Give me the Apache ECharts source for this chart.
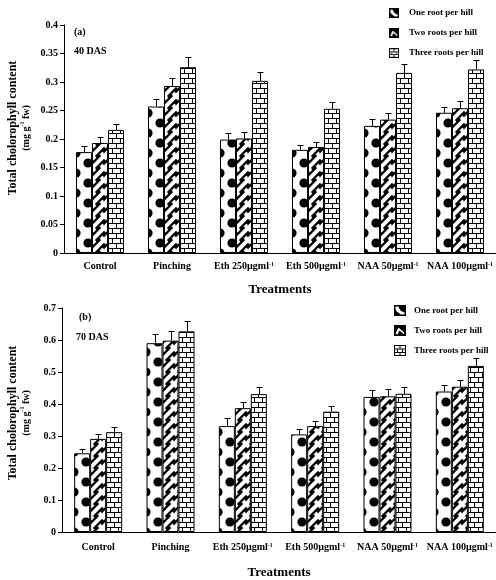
<!DOCTYPE html>
<html>
<head>
<meta charset="utf-8">
<script src="https://cdn.jsdelivr.net/npm/echarts@6.0.0/dist/echarts.min.js"></script>
<style>
  html, body { margin: 0; padding: 0; background: #fff; }
  #chart { width: 496px; height: 580px; }
</style>
</head>
<body>
<div id="chart"></div>
<script>
// categories ({s|..} = superscript)
const treatments = ['Control', 'Pinching', 'Eth 250\u00b5gml{s|-1}', 'Eth 500\u00b5gml{s|-1}', 'NAA 50\u00b5gml{s|-1}', 'NAA 100\u00b5gml{s|-1}'];
const seriesNames = ['One root per hill', 'Two roots per hill', 'Three roots per hill'];

// (a) 40 DAS
const oneA = [0.177, 0.257, 0.199, 0.181, 0.223, 0.246];
const twoA = [0.193, 0.293, 0.201, 0.186, 0.234, 0.254];
const threeA = [0.216, 0.326, 0.302, 0.253, 0.316, 0.322];
const errOneA = [0.010, 0.014, 0.011, 0.009, 0.012, 0.011];
const errTwoA = [0.010, 0.014, 0.011, 0.009, 0.011, 0.012];
const errThreeA = [0.011, 0.017, 0.016, 0.012, 0.016, 0.016];

// (b) 70 DAS
const oneB = [0.246, 0.590, 0.331, 0.305, 0.422, 0.439];
const twoB = [0.291, 0.598, 0.387, 0.331, 0.424, 0.454];
const threeB = [0.312, 0.627, 0.431, 0.376, 0.432, 0.519];
const errOneB = [0.013, 0.030, 0.025, 0.017, 0.022, 0.021];
const errTwoB = [0.015, 0.031, 0.020, 0.017, 0.022, 0.022];
const errThreeB = [0.017, 0.032, 0.022, 0.019, 0.021, 0.025];

const FONT = '"Liberation Serif", "Times New Roman", serif';

function makeCanvas(w, h, draw) {
  const c = document.createElement('canvas');
  c.width = w; c.height = h;
  draw(c.getContext('2d'), w, h);
  return c;
}

// fill patterns
const dotsImg = makeCanvas(24, 20, function (ctx, w, h) {
  ctx.fillStyle = '#fff'; ctx.fillRect(0, 0, w, h);
  ctx.fillStyle = '#000';
  [[12, 5], [0, 15], [24, 15]].forEach(function (p) {
    ctx.beginPath(); ctx.arc(p[0], p[1], 4.6, 0, Math.PI * 2); ctx.fill();
  });
});
const weaveImg = makeCanvas(12, 12, function (ctx, w, h) {
  ctx.fillStyle = '#000'; ctx.fillRect(0, 0, w, h);
  ctx.strokeStyle = '#fff'; ctx.lineWidth = 4; ctx.lineCap = 'butt';
  ctx.beginPath(); ctx.moveTo(-1, 13); ctx.lineTo(13, -1); ctx.stroke();
  ctx.beginPath(); ctx.moveTo(-1, -1); ctx.lineTo(3, 3); ctx.stroke();
  ctx.beginPath(); ctx.moveTo(9, 9); ctx.lineTo(13, 13); ctx.stroke();
});
const brickImg = makeCanvas(8, 10, function (ctx, w, h) {
  ctx.fillStyle = '#fff'; ctx.fillRect(0, 0, w, h);
  ctx.strokeStyle = '#000'; ctx.lineWidth = 1;
  ctx.beginPath();
  ctx.moveTo(0, 0.5); ctx.lineTo(8, 0.5);
  ctx.moveTo(0, 5.5); ctx.lineTo(8, 5.5);
  ctx.moveTo(0.5, 0); ctx.lineTo(0.5, 5);
  ctx.moveTo(4.5, 5); ctx.lineTo(4.5, 10);
  ctx.stroke();
});

function pat(img, x, y) {
  return { image: img, repeat: 'repeat', x: x, y: y };
}

// legend icons
function iconUrl(k) {
  return makeCanvas(24, 22, function (ctx, w, h) {
    if (k === 2) {
      ctx.fillStyle = '#fff'; ctx.fillRect(0, 0, w, h);
      ctx.strokeStyle = '#000'; ctx.lineWidth = 2;
      ctx.strokeRect(1, 1, w - 2, h - 2);
      ctx.beginPath();
      ctx.moveTo(0, 8); ctx.lineTo(w, 8);
      ctx.moveTo(0, 15); ctx.lineTo(w, 15);
      ctx.moveTo(12, 0); ctx.lineTo(12, 8);
      ctx.moveTo(7, 8); ctx.lineTo(7, 15);
      ctx.moveTo(17, 8); ctx.lineTo(17, 15);
      ctx.moveTo(12, 15); ctx.lineTo(12, h);
      ctx.stroke();
      return;
    }
    ctx.fillStyle = '#000'; ctx.fillRect(0, 0, w, h);
    ctx.fillStyle = '#fff';
    ctx.beginPath();
    if (k === 0) {
      ctx.moveTo(3, 3); ctx.lineTo(9, 3);
      ctx.quadraticCurveTo(11, 12, 21, 15);
      ctx.lineTo(21, 19); ctx.lineTo(14, 19);
      ctx.quadraticCurveTo(5, 14, 3, 9);
      ctx.closePath();
    } else {
      ctx.moveTo(3, 17); ctx.lineTo(9, 5); ctx.lineTo(20, 15);
      ctx.lineTo(20, 19); ctx.lineTo(11, 11); ctx.lineTo(7, 19);
      ctx.closePath();
    }
    ctx.fill();
  }).toDataURL();
}
const icons = [iconUrl(0), iconUrl(1), iconUrl(2)];

const boldText = { color: '#000', fontFamily: FONT, fontWeight: 'bold' };
const supRich = { s: Object.assign({ fontSize: 6, verticalAlign: 'top', lineHeight: 8 }, boldText) };

function xAx(gi, labelMargin, nameGap) {
  return {
    type: 'category', gridIndex: gi, data: treatments,
    axisLine: { lineStyle: { color: '#000', width: 1 } },
    axisTick: { length: 4, lineStyle: { color: '#000' } },
    axisLabel: Object.assign({ interval: 0, margin: labelMargin, fontSize: 10, rich: supRich }, boldText),
    name: 'Treatments', nameLocation: 'middle', nameGap: nameGap,
    nameTextStyle: Object.assign({ fontSize: 13 }, boldText)
  };
}
function yAx(gi, max, step) {
  return {
    type: 'value', gridIndex: gi, min: 0, max: max, interval: step,
    axisLine: { show: true, lineStyle: { color: '#000', width: 1 } },
    axisTick: { show: true, length: 4, lineStyle: { color: '#000' } },
    splitLine: { show: false },
    axisLabel: Object.assign({ margin: 6, fontSize: 10 }, boldText)
  };
}

function bar(gi, k, vals, color) {
  return {
    type: 'bar', name: seriesNames[k], xAxisIndex: gi, yAxisIndex: gi,
    data: vals, barWidth: 16, barGap: '0%', silent: true,
    itemStyle: { color: color, borderColor: '#000', borderWidth: 1 },
    emphasis: { disabled: true }
  };
}

function errors(gi, lists, errs) {
  const data = [];
  for (let k = 0; k < lists.length; k++) {
    for (let i = 0; i < lists[k].length; i++) data.push([i, lists[k][i], errs[k][i], k]);
  }
  return {
    type: 'custom', xAxisIndex: gi, yAxisIndex: gi, data: data, z: 5, silent: true,
    encode: { x: 0, y: 1 },
    renderItem: function (params, api) {
      const cat = api.value(0), v = api.value(1), e = api.value(2), k = api.value(3);
      const base = api.coord([cat, v]);
      const top = api.coord([cat, v + e]);
      const x = Math.round(base[0] + (k - 1) * 16) + 0.5;
      const yt = Math.round(top[1]) + 0.5;
      return {
        type: 'group',
        children: [
          { type: 'line', shape: { x1: x, y1: base[1], x2: x, y2: yt }, style: { stroke: '#000', lineWidth: 1 } },
          { type: 'line', shape: { x1: x - 3, y1: yt, x2: x + 3, y2: yt }, style: { stroke: '#000', lineWidth: 1 } }
        ]
      };
    }
  };
}

function legend(left, top, w, h, gap, pad) {
  return {
    left: left, top: top, orient: 'vertical', selectedMode: false,
    itemWidth: w, itemHeight: h, itemGap: gap,
    data: seriesNames.map(function (n, k) { return { name: n, icon: 'image://' + icons[k] }; }),
    textStyle: Object.assign({ fontSize: 9, padding: [0, 0, 0, pad] }, boldText)
  };
}

function label(text, x, y, size) {
  return {
    type: 'text', x: x, y: y, silent: true,
    style: { text: text, font: 'bold ' + size + 'px ' + FONT, fill: '#000', align: 'left', verticalAlign: 'middle' }
  };
}
function yTitle(cy) {
  return {
    type: 'text', x: 19, y: cy, rotation: Math.PI / 2, silent: true,
    style: {
      text: '{a|Total cholorophyll content}\n{b|(mg g}{s|-1}{b| fw)}',
      align: 'center', verticalAlign: 'middle', fill: '#000',
      rich: {
        a: Object.assign({ fontSize: 12, lineHeight: 14 }, boldText),
        b: Object.assign({ fontSize: 10, lineHeight: 13 }, boldText),
        s: Object.assign({ fontSize: 6, verticalAlign: 'top', lineHeight: 13 }, boldText)
      }
    }
  };
}

const chart = echarts.init(document.getElementById('chart'));
chart.setOption({
  animation: false,
  backgroundColor: '#fff',
  grid: [
    { left: 64, top: 25, width: 432, height: 228 },
    { left: 62, top: 308, width: 434, height: 224 }
  ],
  xAxis: [xAx(0, 8, 30), xAx(1, 10, 34)],
  yAxis: [yAx(0, 0.4, 0.05), yAx(1, 0.7, 0.1)],
  legend: [legend(384, 3, 10, 10, 10, 5), legend(389, 300, 12, 11, 9, 3)],
  graphic: [
    label('(a)', 74, 32, 10), label('40 DAS', 74, 51, 10),
    label('(b)', 79, 317, 10), label('70 DAS', 76, 337, 10),
    yTitle(128), yTitle(413)
  ],
  series: [
    bar(0, 0, oneA, pat(dotsImg, 76, 238)),
    bar(0, 1, twoA, pat(weaveImg, 92, 0)),
    bar(0, 2, threeA, pat(brickImg, 108, 3)),
    errors(0, [oneA, twoA, threeA], [errOneA, errTwoA, errThreeA]),
    bar(1, 0, oneB, pat(dotsImg, 74, 517)),
    bar(1, 1, twoB, pat(weaveImg, 90, 0)),
    bar(1, 2, threeB, pat(brickImg, 106, 2)),
    errors(1, [oneB, twoB, threeB], [errOneB, errTwoB, errThreeB])
  ]
});
</script>
</body>
</html>
